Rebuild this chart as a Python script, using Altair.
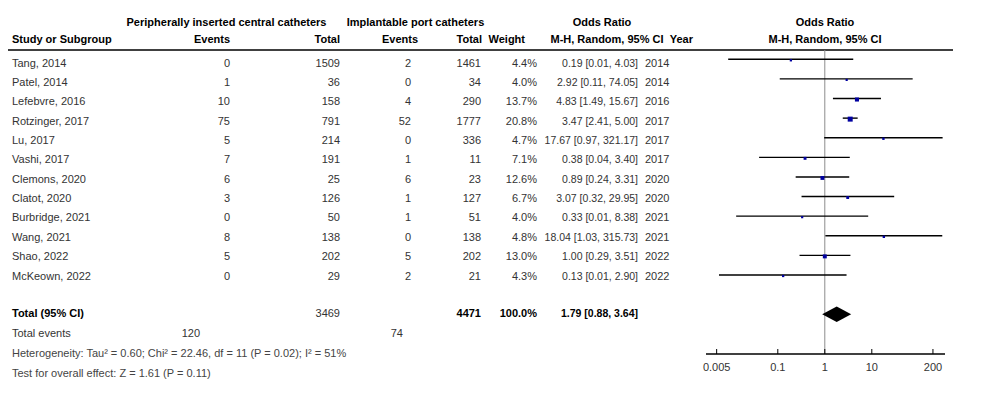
import altair as alt
import pandas as pd

# ---------------- data ----------------
studies = ["Tang, 2014", "Patel, 2014", "Lefebvre, 2016", "Rotzinger, 2017", "Lu, 2017",
           "Vashi, 2017", "Clemons, 2020", "Clatot, 2020", "Burbridge, 2021", "Wang, 2021",
           "Shao, 2022", "McKeown, 2022"]
picc_events = [0, 1, 10, 75, 5, 7, 6, 3, 0, 8, 5, 0]
picc_total = [1509, 36, 158, 791, 214, 191, 25, 126, 50, 138, 202, 29]
port_events = [2, 0, 4, 52, 0, 1, 6, 1, 1, 0, 5, 2]
port_total = [1461, 34, 290, 1777, 336, 11, 23, 127, 51, 138, 202, 21]
weights = [4.4, 4.0, 13.7, 20.8, 4.7, 7.1, 12.6, 6.7, 4.0, 4.8, 13.0, 4.3]
odds_ratio = [0.19, 2.92, 4.83, 3.47, 17.67, 0.38, 0.89, 3.07, 0.33, 18.04, 1.00, 0.13]
ci_low = [0.0088, 0.11, 1.49, 2.41, 0.97, 0.04, 0.24, 0.32, 0.013, 1.03, 0.29, 0.0056]
ci_high = [4.03, 74.05, 15.67, 5.00, 321.17, 3.40, 3.31, 29.95, 8.38, 315.73, 3.51, 2.90]
years = [2014, 2014, 2016, 2017, 2017, 2017, 2020, 2020, 2021, 2021, 2022, 2022]

total_label = "Total (95% CI)"
total_n = [3469, 4471]          # PICC, port
total_events = [120, 74]        # PICC, port
total_weight = "100.0%"
pooled = [0.88, 1.79, 3.64]     # low, estimate, high
heterogeneity = "Heterogeneity: Tau\u00b2 = 0.60; Chi\u00b2 = 22.46, df = 11 (P = 0.02); I\u00b2 = 51%"
overall = "Test for overall effect: Z = 1.61 (P = 0.11)"
tick_values = [0.005, 0.1, 1, 10, 200]
tick_labels = ["0.005", "0.1", "1", "10", "200"]

# ---------------- tables ----------------
df = pd.DataFrame({
    "study": studies,
    "pe": [str(v) for v in picc_events],
    "pt": [str(v) for v in picc_total],
    "qe": [str(v) for v in port_events],
    "qt": [str(v) for v in port_total],
    "w": weights,
    "wt": [f"{v:.1f}%" for v in weights],
    "or": odds_ratio,
    "lo": ci_low,
    "hi": ci_high,
    "ci": [f"{o:.2f} [{l:.2f}, {h:.2f}]" for o, l, h in zip(odds_ratio, ci_low, ci_high)],
    "year": [str(y) for y in years],
    "row": list(range(len(studies))),
})

FONT = "Liberation Sans"
FS = 11
BODY = "#333333"
LINE_Y = alt.Scale(domain=[0, 11], range=[51.3, 267.0])
TEXT_Y = alt.Scale(domain=[0, 11], range=[55.7, 268.5])
X_OR = alt.Scale(type="log", domain=[0.001, 1000], range=[675.8, 957.8])


def col(field, x, align, size=FS):
    return alt.Chart(df).mark_text(
        align=align, baseline="middle", font=FONT, fontSize=size, color=BODY
    ).encode(x=alt.value(x), y=alt.Y("row:Q", scale=TEXT_Y, axis=None), text=f"{field}:N")


def label(text, x, y, align="left", bold=False, color=BODY, size=FS):
    return alt.Chart(pd.DataFrame({"t": [text]})).mark_text(
        align=align, baseline="middle", font=FONT, fontSize=size,
        fontWeight="bold" if bold else "normal", color=color
    ).encode(x=alt.value(x), y=alt.value(y), text="t:N")


layers = []

# headers
layers += [
    label("Peripherally inserted central catheters", 218.5, 14.5, "center", True, "black"),
    label("Implantable port catheters", 407.5, 14.5, "center", True, "black"),
    label("Odds Ratio", 594, 14.5, "center", True, "black"),
    label("Odds Ratio", 817, 14.5, "center", True, "black"),
    label("Study or Subgroup", 4, 31.5, "left", True, "black"),
    label("Events", 222, 31.5, "right", True, "black"),
    label("Total", 332, 31.5, "right", True, "black"),
    label("Events", 410, 31.5, "right", True, "black"),
    label("Total", 474, 31.5, "right", True, "black"),
    label("Weight", 517, 31.5, "right", True, "black"),
    label("M-H, Random, 95% CI", 599, 31.5, "center", True, "black"),
    label("Year", 685, 31.5, "right", True, "black"),
    label("M-H, Random, 95% CI", 817, 31.5, "center", True, "black"),
]

# header rule
layers.append(alt.Chart(pd.DataFrame({"a": [0]})).mark_rule(color="black", strokeWidth=1.3).encode(
    x=alt.value(0), x2=alt.value(945), y=alt.value(42)))

# study columns
layers += [
    col("study", 4, "left"),
    col("pe", 222, "right"),
    col("pt", 332, "right"),
    col("qe", 403, "right"),
    col("qt", 473, "right"),
    col("wt", 529, "right"),
    col("ci", 630, "right", 10.5),
    col("year", 637, "left"),
]

# totals / footer
layers += [
    label(total_label, 4, 306, "left", True, "black"),
    label(str(total_n[0]), 332, 306, "right", False, BODY),
    label(str(total_n[1]), 473, 306, "right", True, "black"),
    label(total_weight, 529, 306, "right", True, "black"),
    label(f"{pooled[1]:.2f} [{pooled[0]:.2f}, {pooled[2]:.2f}]", 630, 306, "right", True, "black", 10.5),
    label("Total events", 4, 326, "left"),
    label(str(total_events[0]), 192, 326, "right"),
    label(str(total_events[1]), 395, 326, "right"),
    label(heterogeneity, 4, 346, "left", color="#444444"),
    label(overall, 4, 366, "left", color="#444444"),
]

# line of no effect
layers.append(alt.Chart(pd.DataFrame({"v": [1]})).mark_rule(color="#8c8c8c", strokeWidth=1).encode(
    x=alt.X("v:Q", scale=X_OR, axis=None), y=alt.value(42), y2=alt.value(346)))

# confidence intervals
layers.append(alt.Chart(df).mark_rule(color="black", strokeWidth=1.4).encode(
    x=alt.X("lo:Q", scale=X_OR, axis=None), x2="hi:Q",
    y=alt.Y("row:Q", scale=LINE_Y, axis=None)))

# squares
layers.append(alt.Chart(df).mark_square(color="#0000a0", opacity=1, yOffset=1).encode(
    x=alt.X("or:Q", scale=X_OR, axis=None),
    y=alt.Y("row:Q", scale=LINE_Y, axis=None),
    size=alt.Size("w:Q", scale=alt.Scale(domain=[0, 20.8], range=[0, 25]), legend=None)))

# pooled diamond
hh = 0.40
diamond = pd.DataFrame({"x": pooled, "y": [13, 13 - hh, 13], "y2": [13, 13 + hh, 13]})
layers.append(alt.Chart(diamond).mark_area(color="black", opacity=1).encode(
    x=alt.X("x:Q", scale=X_OR, axis=None),
    y=alt.Y("y:Q", scale=LINE_Y, axis=None), y2="y2:Q"))

# axis
ticks = pd.DataFrame({"v": tick_values, "lab": tick_labels})
layers.append(alt.Chart(pd.DataFrame({"a": [0]})).mark_rule(color="black", strokeWidth=1.3).encode(
    x=alt.value(698), x2=alt.value(937), y=alt.value(346)))
layers.append(alt.Chart(ticks).mark_rule(color="black", strokeWidth=1).encode(
    x=alt.X("v:Q", scale=X_OR, axis=None), y=alt.value(341), y2=alt.value(346)))
layers.append(alt.Chart(ticks).mark_text(font=FONT, fontSize=FS, color=BODY, baseline="middle").encode(
    x=alt.X("v:Q", scale=X_OR, axis=None), y=alt.value(360), text="lab:N"))

chart = alt.layer(*layers).resolve_scale(y="independent").properties(
    width=965, height=394, padding=0, autosize="none", background="white"
).configure_view(stroke=None)

chart.save("out.html", embed_options={"renderer": "svg", "actions": False})
